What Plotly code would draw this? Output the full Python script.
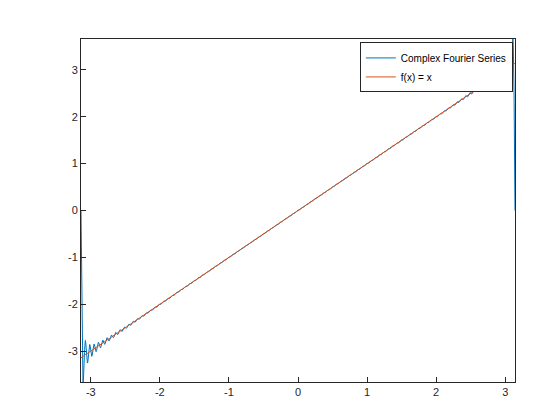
import numpy as np
import plotly.graph_objects as go

# Fourier series of f(x) = x on [-pi, pi]
n_terms = 100
x = np.linspace(-np.pi, np.pi, 4001)
coef = [2 * (-1) ** (n + 1) / n for n in range(1, n_terms + 1)]
series = sum(c * np.sin((n + 1) * x) for n, c in enumerate(coef))
fx = x

ticks = [-3, -2, -1, 0, 1, 2, 3]
tick_labels = [str(t) for t in ticks]

fig = go.Figure()
fig.add_trace(go.Scatter(x=x, y=series, mode='lines', name='Complex Fourier Series',
                         line=dict(color='#0072BD', width=1)))
fig.add_trace(go.Scatter(x=x, y=fx, mode='lines', name='f(x) = x',
                         line=dict(color='#D95319', width=1)))

axis = dict(showgrid=False, zeroline=False, showline=True, mirror=True,
            linecolor='#262626', linewidth=1, ticks='inside', ticklen=5,
            tickcolor='#262626', tickfont=dict(size=11, color='#262626'),
            tickvals=ticks, ticktext=tick_labels)
fig.update_layout(
    width=560, height=420,
    margin=dict(l=73, r=53, t=31, b=46),
    paper_bgcolor='white', plot_bgcolor='white',
    font=dict(family='Liberation Sans, Arial', size=11),
    xaxis=dict(range=[-np.pi, np.pi], **axis),
    yaxis=dict(range=[-3.66, 3.66], **axis),
    legend=dict(x=0.995, y=0.99, xanchor='right', yanchor='top',
                bgcolor='white', bordercolor='#262626', borderwidth=1,
                font=dict(size=10, color='black'), tracegroupgap=0,
                itemwidth=30),
    showlegend=True,
)

fig.write_html('out.html')
